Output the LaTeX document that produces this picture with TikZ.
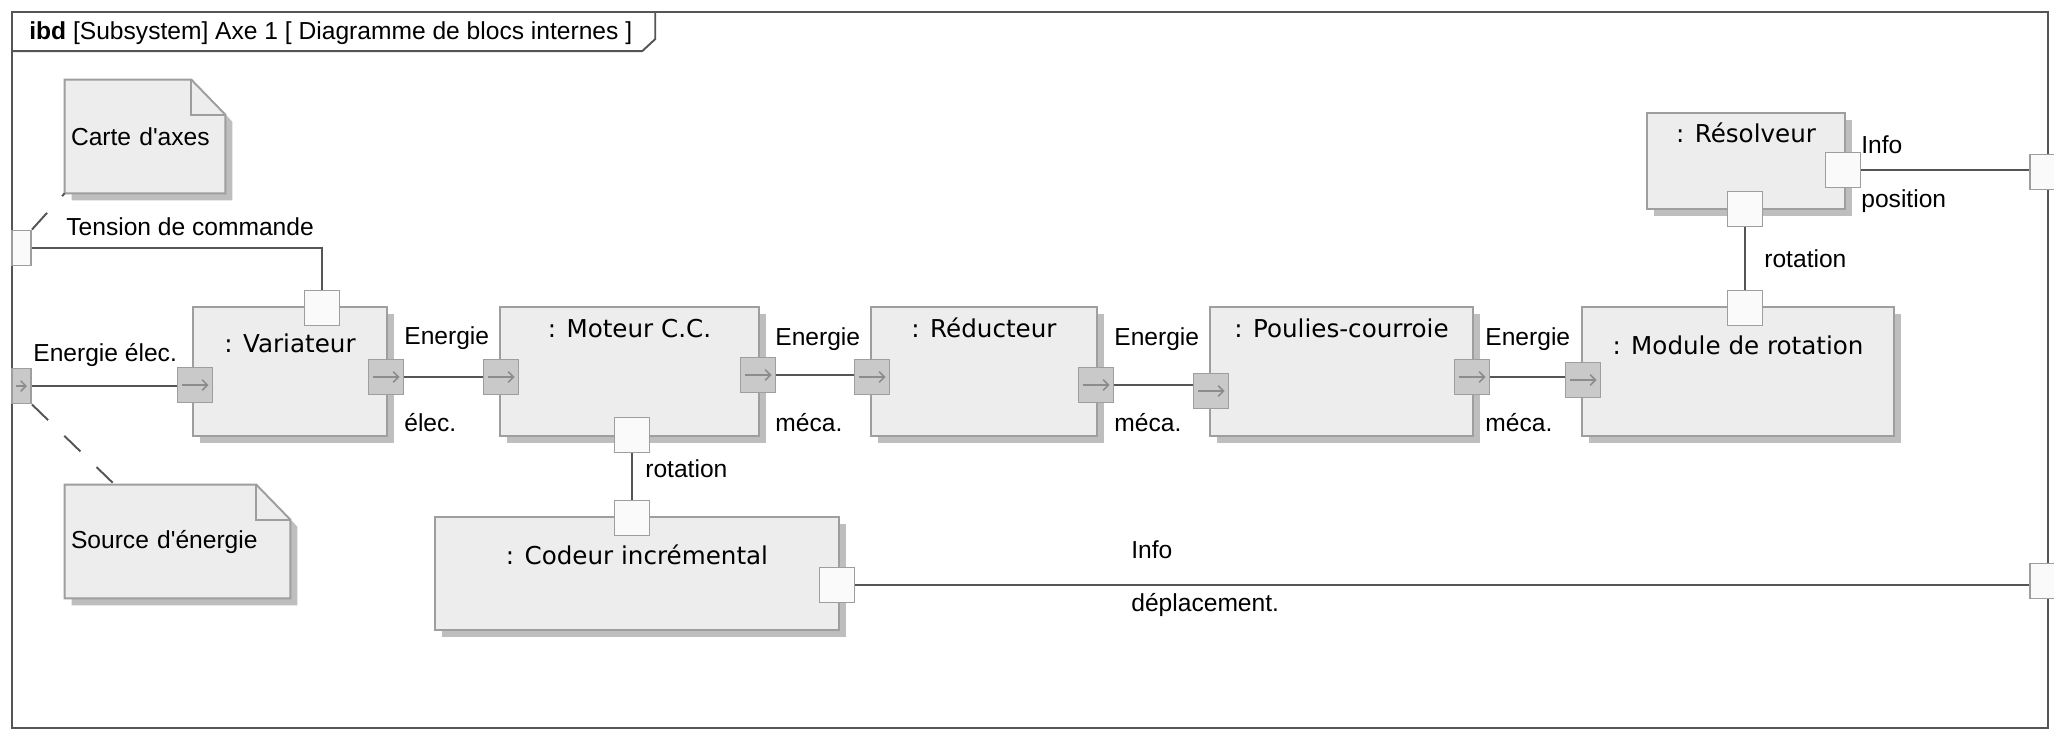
\documentclass[tikz,border=0pt]{standalone}
\usepackage{fontspec}
\setmainfont{Liberation Sans}[Ligatures=TeXOff]
\newfontfamily\blocfont{DejaVu Sans}
\usetikzlibrary{arrows.meta,shadows,backgrounds}

\definecolor{cTrait}{HTML}{555555}
\definecolor{cBord}{HTML}{9E9E9E}
\definecolor{cFond}{HTML}{EDEDED}
\definecolor{cOmbre}{HTML}{BEBEBE}
\definecolor{cFlux}{HTML}{C9C9C9}
\definecolor{cFleche}{HTML}{8C8C8C}
\definecolor{cPort}{HTML}{FAFAFA}

\tikzset{
  bloc/.style={draw=cBord, fill=cFond, line width=1.1pt, inner sep=0pt,
    font=\blocfont\fontsize{14}{17}\selectfont,
    general shadow={fill=cOmbre, shadow xshift=0.14cm, shadow yshift=-0.14cm}},
  port/.style={draw=cBord, fill=cPort, line width=1.1pt, inner sep=0pt, minimum size=0.7cm},
  flux/.style={port, fill=cFlux, path picture={\draw[cFleche, line width=0.9pt, -{Straight Barb[length=3pt,width=6pt]}]
    ([xshift=0.08cm]path picture bounding box.west) -- ([xshift=-0.08cm]path picture bounding box.east);}},
  note/.style={inner xsep=0.12cm, inner ysep=0pt, align=left, minimum height=2.26cm},
  lien/.style={draw=cTrait, line width=1.1pt},
  pointille/.style={lien, dash pattern=on 0.45cm off 0.45cm},
  texte/.style={anchor=west, inner sep=0pt},
}

\newcommand{\fondnote}[1]{%
  \fill[cOmbre] ([xshift=0.14cm,yshift=-0.14cm]#1.north west) -- ([xshift=-0.54cm,yshift=-0.14cm]#1.north east)
    -- ([xshift=0.14cm,yshift=-0.84cm]#1.north east) -- ([xshift=0.14cm,yshift=-0.14cm]#1.south east)
    -- ([xshift=0.14cm,yshift=-0.14cm]#1.south west) -- cycle;
  \filldraw[fill=cFond, draw=cBord, line width=1.1pt] (#1.north west) -- ([xshift=-0.68cm]#1.north east)
    -- ([yshift=-0.7cm]#1.north east) -- (#1.south east) -- (#1.south west) -- cycle;
  \draw[cBord, line width=1.1pt] ([xshift=-0.68cm]#1.north east) |- ([yshift=-0.7cm]#1.north east);}

\begin{document}
\begin{tikzpicture}[x=0.02cm, y=-0.02cm, font=\fontsize{14}{17}\selectfont]
  \path[use as bounding box] (0,0) rectangle (2054,736);
  \clip (0,0) rectangle (2054,736);
  % Definitions:
  \node[draw=cTrait, line width=1.1pt, minimum width=40.72cm, minimum height=14.32cm, inner sep=0pt] (cadre) at (1030,370) {};
  \node[texte] (titre) at (29,33) {\textbf{ibd} [Subsystem] Axe 1 [ Diagramme de blocs internes ]};
  \node[note, text width=2.96cm] (carte) at (145,136.5) {Carte d'axes};
  \node[note, text width=4.26cm] (source) at (177.5,541.5) {Source d'énergie};
  \node[bloc, minimum width=3.88cm, text height=0.9cm, text depth=1.68cm] (var) at (290,371.5) {: Variateur};
  \node[bloc, minimum width=5.18cm, text height=0.6cm, text depth=1.98cm] (mot) at (629.5,371.5) {: Moteur C.C.};
  \node[bloc, minimum width=4.52cm, text height=0.6cm, text depth=1.98cm] (red) at (984,371.5) {: Réducteur};
  \node[bloc, minimum width=5.26cm, text height=0.6cm, text depth=1.98cm] (pou) at (1341.5,371.5) {: Poulies-courroie};
  \node[bloc, minimum width=6.24cm, text height=0.94cm, text depth=1.64cm] (mod) at (1738,371.5) {: Module de rotation};
  \node[bloc, minimum width=3.96cm, text height=0.58cm, text depth=1.34cm] (res) at (1746,161) {: Résolveur};
  \node[bloc, minimum width=8.08cm, text height=0.94cm, text depth=1.32cm] (cod) at (637,573.5) {: Codeur incrémental};
  % Ports:
  \node[port] (vtop) at (322,308) {};
  \node[flux] (vin) at (195,385) {};
  \node[flux] (vout) at (386,377) {};
  \node[flux] (min) at (501,377) {};
  \node[flux] (mout) at (758,375) {};
  \node[port] (mbas) at (632,435) {};
  \node[flux] (rin) at (872,377) {};
  \node[flux] (rout) at (1096,385) {};
  \node[flux] (pin) at (1211,391) {};
  \node[flux] (pout) at (1472,377) {};
  \node[flux] (modin) at (1583,380) {};
  \node[port] (modhaut) at (1745,308) {};
  \node[port] (resbas) at (1745,209) {};
  \node[port] (resout) at (1843,170) {};
  \node[port] (chaut) at (632,518) {};
  \node[port] (cout) at (837,585) {};
  \node[port, minimum width=0.38cm] (ptension) at (21.5,248) {};
  \node[flux, minimum width=0.38cm] (penergie) at (21.5,386) {};
  \node[port] (pinfo) at (2047,172) {};
  \node[port] (pdepl) at (2047,581) {};
  % Drawing:
  \draw[lien] (cadre.north west) ++(0,40) -- ++(631,0) -- ++(13,-12) -- ++(0,-28);
  \draw[lien] (ptension.east) -| (vtop.north);
  \draw[lien] (penergie.east) -- (penergie.east -| vin.west);
  \draw[lien] (vout.east) -- (vout.east -| min.west);
  \draw[lien] (mout.east) -- (mout.east -| rin.west);
  \draw[lien] (rout.east) -- (rout.east -| pin.west);
  \draw[lien] (pout.east) -- (pout.east -| modin.west);
  \draw[lien] (modhaut.north) -- (resbas.south);
  \draw[lien] (resout.east) -- (resout.east -| pinfo.west);
  \draw[lien] (mbas.south) -- (chaut.north);
  \draw[lien] (cout.east) -- (cout.east -| pdepl.west);
  \draw[pointille] (ptension.north east) -- (carte.south west);
  \draw[pointille] (penergie.south east) -- ([xshift=1cm]source.north west);
  \begin{scope}[on background layer]
    \fill[white] (0,0) rectangle (2054,736);
    \fondnote{carte}
    \fondnote{source}
  \end{scope}
  % Labels:
  \node[texte] (ltension) at (66,227) {Tension de commande};
  \node[texte] (lenergie) at (33,355) {Energie élec.};
  \node[texte] (e1) at (404,338) {Energie};
  \node[texte] (s1) at (404,423) {élec.};
  \node[texte] (e2) at (775,339) {Energie};
  \node[texte] (s2) at (775,423) {méca.};
  \node[texte] (e3) at (1114,339) {Energie};
  \node[texte] (s3) at (1114,423) {méca.};
  \node[texte] (e4) at (1485,339) {Energie};
  \node[texte] (s4) at (1485,423) {méca.};
  \node[texte] (rot1) at (645,469) {rotation};
  \node[texte] (rot2) at (1764,259) {rotation};
  \node[texte] (info1) at (1861,145) {Info};
  \node[texte] (pos) at (1861,201) {position};
  \node[texte] (info2) at (1131,550) {Info};
  \node[texte] (depl) at (1131,605) {déplacement.};
\end{tikzpicture}
\end{document}
